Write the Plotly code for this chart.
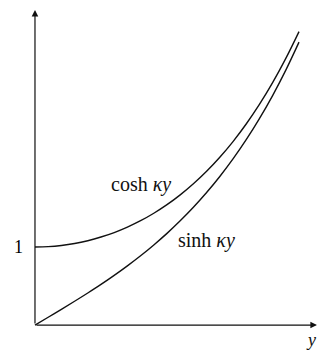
import plotly.graph_objects as go

# Sample points along the two hyperbolic curves (argument κy on the horizontal axis)
ky = [0.0, 0.1, 0.2, 0.3, 0.4, 0.5, 0.6, 0.7, 0.8, 0.9, 1.0,
      1.1, 1.2, 1.3, 1.4, 1.5, 1.6, 1.7, 1.8, 1.9, 2.0]
cosh_vals = [1.000, 1.005, 1.020, 1.045, 1.081, 1.128, 1.185, 1.255, 1.337, 1.433, 1.543,
             1.669, 1.811, 1.971, 2.151, 2.352, 2.577, 2.828, 3.107, 3.418, 3.762]
sinh_vals = [0.000, 0.100, 0.201, 0.305, 0.411, 0.521, 0.637, 0.759, 0.888, 1.027, 1.175,
             1.336, 1.509, 1.698, 1.904, 2.129, 2.376, 2.646, 2.942, 3.268, 3.627]

curve_labels = ["cosh <i>κy</i>", "sinh <i>κy</i>"]
label_pos = [(0.80, 1.80), (1.30, 1.08)]
one_label = "1"
axis_label = "<i>y</i>"

ink = "#111111"
serif = "Liberation Serif, Times New Roman, serif"

fig = go.Figure()
for vals in (cosh_vals, sinh_vals):
    fig.add_trace(go.Scatter(x=ky, y=vals, mode="lines", line_shape="spline",
                             line=dict(color=ink, width=1.4), hoverinfo="skip"))

# Axes drawn as arrows from the origin
fig.add_annotation(x=2.136, y=0, ax=0, ay=0, xref="x", yref="y", axref="x", ayref="y",
                   text="", showarrow=True, arrowhead=2, arrowsize=1.1, arrowwidth=1.2,
                   arrowcolor=ink)
fig.add_annotation(x=0, y=4.04, ax=0, ay=0, xref="x", yref="y", axref="x", ayref="y",
                   text="", showarrow=True, arrowhead=2, arrowsize=1.1, arrowwidth=1.2,
                   arrowcolor=ink)

for txt, (lx, ly) in zip(curve_labels, label_pos):
    fig.add_annotation(x=lx, y=ly, text=txt, showarrow=False,
                       font=dict(family=serif, size=20, color=ink))

fig.add_annotation(x=-0.125, y=1.0, text=one_label, showarrow=False,
                   font=dict(family=serif, size=18, color="#000000"))
fig.add_annotation(x=2.145, y=-0.19, text=axis_label, showarrow=False, xanchor="right",
                   font=dict(family=serif, size=18, color=ink))

fig.update_layout(
    width=320, height=351,
    margin=dict(l=0, r=0, t=0, b=0),
    paper_bgcolor="white", plot_bgcolor="white",
    showlegend=False,
    xaxis=dict(range=[-0.265, 2.159], visible=False, fixedrange=True),
    yaxis=dict(range=[-0.333, 4.167], visible=False, fixedrange=True),
)

fig.write_html("out.html")
